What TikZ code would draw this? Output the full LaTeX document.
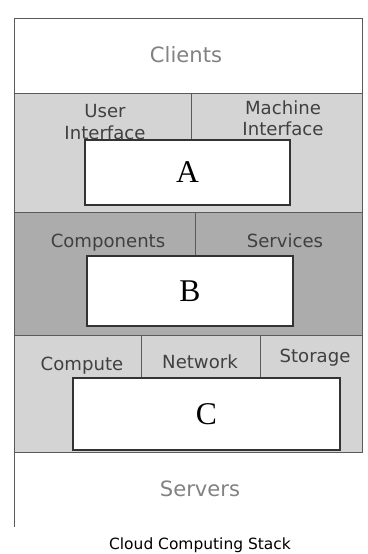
\documentclass[tikz,border=0pt]{standalone}
\usepackage{fontspec}
\setsansfont{DejaVu Sans}
\newfontfamily\boxfont{Liberation Serif}
\definecolor{mylightgray}{RGB}{212,212,212}
\definecolor{mydarkgray}{RGB}{172,172,172}
\definecolor{mylinegray}{RGB}{90,90,90}
\definecolor{mytextgray}{RGB}{130,130,130}
\newcommand{\px}{0.02cm}
\tikzset{
    band/.style={draw=mylinegray, thin},
    letterbox/.style={draw=black!80, line width=0.8pt, fill=white, rectangle, inner sep=0pt,
        font=\boxfont\fontsize{18}{18}\selectfont},
    label/.style={font=\sffamily\fontsize{10.3}{12}\selectfont, text=black!75, align=center},
    endlabel/.style={font=\sffamily\fontsize{12}{14}\selectfont, text=mytextgray}
}
\begin{document}
\begin{tikzpicture}[x=\px, y=-\px]
    \useasboundingbox (0,0) rectangle (368,554);
    % layers
    \draw[band, fill=white] (14,18) rectangle (362,93);
    \draw[band, fill=mylightgray] (14,93) rectangle (362,212);
    \draw[band, fill=mydarkgray] (14,212) rectangle (362,335);
    \draw[band, fill=mylightgray] (14,335) rectangle (362,452);
    \draw[band] (14,452) -- (14,527);
    % dividers
    \draw[band] (191,93) -- (191,140);
    \draw[band] (195,212) -- (195,256);
    \draw[band] (141,335) -- (141,378);
    \draw[band] (260,335) -- (260,378);
    % texts
    \node[endlabel] (clients) at (186,55) {Clients};
    \node[label] (ui) at (105,122) {User\\Interface};
    \node[label] (mi) at (283,118) {Machine\\Interface};
    \node[label] (comp) at (108,243) {Components};
    \node[label] (serv) at (285,241) {Services};
    \node[label] (cpu) at (82,366) {Compute};
    \node[label] (net) at (200,362) {Network};
    \node[label] (sto) at (315,358) {Storage};
    \node[endlabel] (servers) at (200,489) {Servers};
    % boxes
    \node[letterbox, minimum width=205*\px, minimum height=65*\px] (A) at (187.5,172.5) {A};
    \node[letterbox, minimum width=206*\px, minimum height=70*\px] (B) at (190,291) {B};
    \node[letterbox, minimum width=267*\px, minimum height=72*\px] (C) at (206.5,414) {C};
    \node[font=\sffamily\fontsize{8.8}{10}\selectfont] (caption) at (200,545) {Cloud Computing Stack};
\end{tikzpicture}
\end{document}
